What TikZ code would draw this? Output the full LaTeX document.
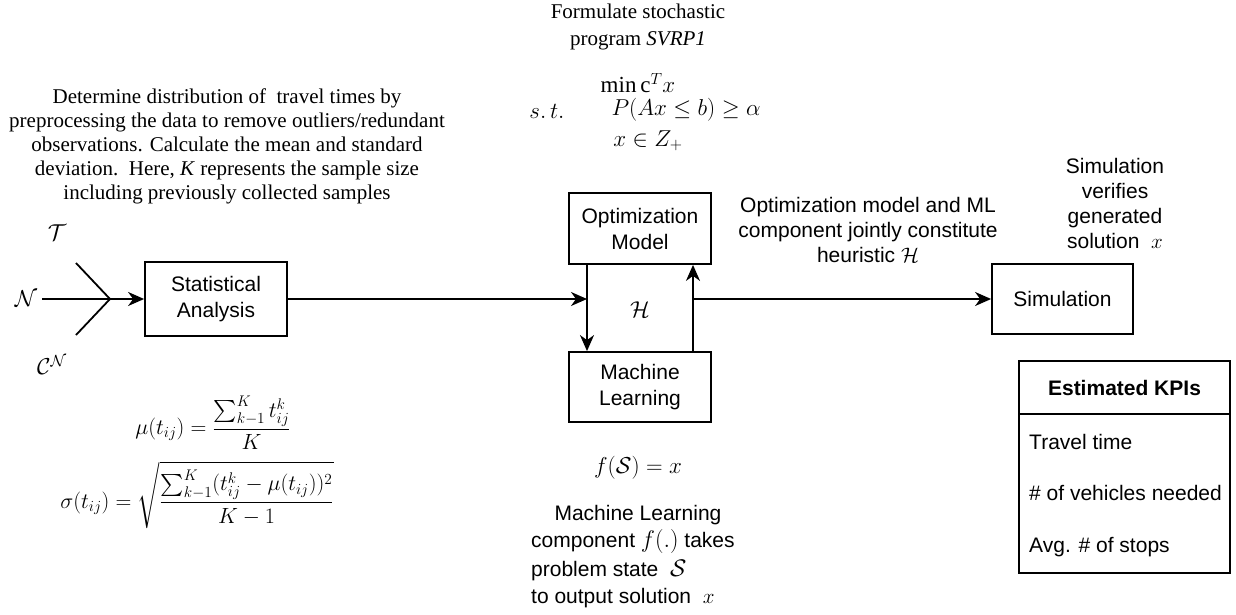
\RequirePackage{fix-cm}
\documentclass[tikz,border=0pt]{standalone}
\usepackage{amsmath,amssymb}
\usepackage{fontspec}
\setmainfont{Liberation Serif}
\setsansfont{Liberation Sans}
\usetikzlibrary{arrows.meta}
\newcommand\sansT{\sffamily\fontsize{21}{26}\selectfont}
\newcommand\sansC{\sffamily\fontsize{21}{25}\selectfont}
\newcommand\serifT{\rmfamily\fontsize{21}{24}\selectfont}
\newcommand\serifF{\rmfamily\fontsize{21}{27}\selectfont}
\newcommand\mathT{\fontsize{22}{26}\selectfont}
\newcommand\mathB{\fontsize{23}{27}\selectfont}
\begin{document}
\begin{tikzpicture}[x=1pt,y=-1pt,
  box/.style={draw,line width=1.8pt,minimum width=142pt,minimum height=72pt,font=\sansT,align=center,inner sep=0pt},
  arr/.style={line width=1.8pt,-{Stealth[length=16pt,width=14pt,inset=5pt]}},
  plain/.style={line width=1.8pt},
  stxt/.style={font=\sansT,align=center,inner sep=0pt},
  rtxt/.style={font=\serifT,align=center,inner sep=0pt},
  mtxt/.style={font=\mathT,inner sep=0pt},
  mbig/.style={font=\mathB,inner sep=0pt}]
\useasboundingbox (0,0) rectangle (1236,615);
\fill[white] (0,0) rectangle (1236,615);

% boxes
\node[box,minimum height=74pt] (sa) at (216,299) {Statistical\\Analysis};
\node[box,minimum height=71pt] (opt) at (640,228.5) {Optimization\\Model};
\node[box,minimum height=70pt] (ml) at (640,387) {Machine\\Learning};
\node[box,minimum width=141pt,minimum height=70pt] (sim) at (1062.5,299) {Simulation};

% KPI table
\node[draw,line width=1.8pt,minimum width=211pt,minimum height=212pt,inner sep=0pt] (kpi) at (1124.5,467) {};
\coordinate (kdl) at (1019,414);
\coordinate (kdr) at (1230,414);
\draw[plain] (kdl) -- (kdr);
\node[stxt,font=\sansT\bfseries] (kh) at (1124.5,388) {Estimated KPIs};
\node[stxt,anchor=west] (k1) at (1029,442) {Travel time};
\node[stxt,anchor=west] (k2) at (1029,493) {\# of vehicles needed};
\node[stxt,anchor=west] (k3) at (1029,547) {Avg. \# of stops};

% inputs
\coordinate (vtip) at (110,299);
\coordinate (ta) at (76,263);
\coordinate (tb) at (76,335);
\node[mbig] (nlab) at (26,299) {$\mathcal{N}$};
\node[mbig] (tlab) at (57,233) {$\mathcal{T}$};
\node[mbig] (clab) at (52,365) {$\mathcal{C}^{\mathcal{N}}$};
\draw[plain] (ta) -- (vtip) -- (tb);
\draw[arr] (nlab.east) ++(5,0) -- (sa.west);

% heuristic loop
\coordinate (hin) at (587,299);
\coordinate (hout) at (693,299);
\draw[arr] (sa.east) -- (hin);
\draw[arr] (opt.south -| hin) -- (ml.north -| hin);
\draw[arr] (ml.north -| hout) -- (opt.south -| hout);
\draw[arr] (hout) -- (sim.west);
\node[mbig] (hlab) at (640,310) {$\mathcal{H}$};

% left text
\node[rtxt] (ltxt) at (227,146) {Determine distribution of\ \ travel times by\\
preprocessing the data to remove outliers/redundant\\
observations. Calculate the mean and standard\\
deviation.\ \ Here, \textit{K} represents the sample size\\
including previously collected samples};

% formulas left
\node[mtxt] (mu) at (213,423) {$\displaystyle \mu(t_{ij}) = \frac{\sum_{k-1}^{K} t_{ij}^{k}}{K}$};
\node[mtxt] (sig) at (197,495) {$\displaystyle \sigma(t_{ij}) = \sqrt{\frac{\sum_{k-1}^{K}(t_{ij}^{k}-\mu(t_{ij}))^{2}}{K-1}}$};

% top program
\node[rtxt,font=\serifF] (form) at (638,27) {Formulate stochastic\\program \textit{SVRP1}};
\node[mbig] (minf) at (638,83) {$\min \mathrm{c}^{T} x$};
\node[mbig] (st) at (547,111) {$s.\,t.$};
\node[mbig] (cons) at (686,110) {$P(Ax \leq b) \geq \alpha$};
\node[mbig] (dom) at (648,141) {$x \in Z_{+}$};

% captions
\node[stxt,font=\sansC] (ocap) at (868,230) {Optimization model and ML\\component jointly constitute\\heuristic $\mathcal{H}$};
\node[stxt,font=\sansC] (scap) at (1115,203) {Simulation\\verifies\\generated\\solution\ \ $x$};

% bottom
\node[mbig] (fs) at (638,468) {$f(\mathcal{S}) = x$};
\node[stxt] (b1) at (638,515) {Machine Learning};
\node[stxt,anchor=west] (b2) at (531,541) {component {\fontsize{24}{26}\selectfont$f(.)$} takes};
\node[stxt,anchor=west] (b3) at (531,570) {problem state\ \ {\fontsize{24}{26}\selectfont$\mathcal{S}$}};
\node[stxt,anchor=west] (b4) at (531,598) {to output solution\ \ $x$};
\end{tikzpicture}
\end{document}
